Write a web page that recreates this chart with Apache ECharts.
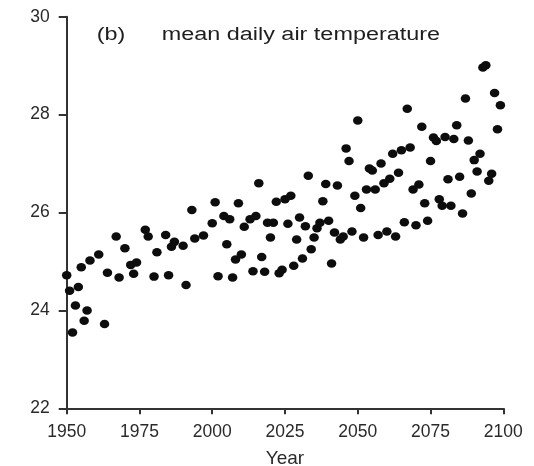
<!DOCTYPE html>
<html>
<head>
<meta charset="utf-8">
<script src="https://cdn.jsdelivr.net/npm/echarts@6/dist/echarts.min.js"></script>
<style>
  html, body { margin: 0; padding: 0; background: #fff; }
  #chart { width: 534px; height: 466px; }
</style>
</head>
<body>
<div id="chart"></div>
<script>
const years = [1950,1951,1952,1953,1954,1955,1956,1957,1958,1961,1963,1964,1967,1968,1970,1972,1973,1974,1977,1978,
  1980,1981,1984,1985,1986,1987,1990,1991,1993,1994,1997,2000,2001,2002,2004,2005,2006,2007,2008,2009,
  2010,2011,2013,2014,2015,2016,2017,2018,2019,2020,2021,2022,2023,2024,2025,2026,2027,2028,2029,2030,
  2031,2032,2033,2034,2035,2036,2037,2038,2039,2040,2041,2042,2043,2044,2045,2046,2047,2048,2049,2050,
  2051,2052,2053,2054,2055,2056,2057,2058,2059,2060,2061,2062,2063,2064,2065,2066,2067,2068,2069,2070,
  2071,2072,2073,2074,2075,2076,2077,2078,2079,2080,2081,2082,2083,2084,2085,2086,2087,2088,2089,2090,
  2091,2092,2093,2094,2095,2096,2097,2098,2099];
const temperature = [24.72,24.40,23.55,24.10,24.48,24.88,23.79,24.00,25.02,25.14,23.72,24.77,25.51,24.67,25.27,24.93,24.75,24.98,25.65,25.51,
  24.69,25.19,25.54,24.72,25.30,25.40,25.32,24.52,26.05,25.47,25.53,25.78,26.21,24.70,25.93,25.35,25.86,24.67,25.04,26.19,
  25.14,25.71,25.86,24.80,25.93,26.60,25.09,24.79,25.79,25.49,25.79,26.22,24.76,24.83,26.27,25.77,26.34,24.91,25.45,25.90,
  25.06,25.72,26.75,25.25,25.49,25.68,25.79,26.23,26.58,25.83,24.96,25.59,26.55,25.45,25.51,27.31,27.05,25.61,26.34,27.88,
  26.09,25.49,26.47,26.90,26.86,26.47,25.54,27.00,26.60,25.61,26.69,27.20,25.51,26.81,27.27,25.80,28.12,27.33,26.47,25.74,
  26.57,27.75,26.19,25.83,27.05,27.53,27.46,26.27,26.14,27.54,26.68,26.14,27.50,27.78,26.73,25.98,28.33,27.47,26.39,27.07,
  26.84,27.20,28.96,29.01,26.65,26.79,28.44,27.70,28.19];
const xTicks = [1950, 1975, 2000, 2025, 2050, 2075, 2100];
const yTicks = [22, 24, 26, 28, 30];
const panelLabel = '(b)';
const titleText = 'mean daily air temperature';
const xName = 'Year';

const points = years.map((y, i) => [y, temperature[i]]);
const FONT = '"Liberation Sans", Arial, sans-serif';
const chart = echarts.init(document.getElementById('chart'), null, { renderer: 'canvas' });
chart.setOption({
  backgroundColor: '#fff',
  animation: false,
  grid: { left: 66.7, right: 30.7, top: 16.7, bottom: 57.7, containLabel: false, outerBoundsMode: 'none' },
  xAxis: {
    type: 'value',
    min: xTicks[0], max: xTicks[xTicks.length - 1], interval: 25,
    name: xName, nameLocation: 'middle', nameGap: 41,
    nameTextStyle: { fontFamily: FONT, fontSize: 19, color: '#2a2a2a' },
    axisLine: { show: true, lineStyle: { color: '#333', width: 2 } },
    axisTick: { show: true, length: 6, lineStyle: { color: '#333', width: 2 } },
    axisLabel: { fontFamily: FONT, fontSize: 17.5, color: '#2a2a2a', margin: 15, formatter: v => String(v) },
    splitLine: { show: false }
  },
  yAxis: {
    type: 'value',
    min: yTicks[0], max: yTicks[yTicks.length - 1], interval: 2,
    axisLine: { show: true, lineStyle: { color: '#333', width: 2 } },
    axisTick: { show: true, length: 8, lineStyle: { color: '#333', width: 2 } },
    axisLabel: { fontFamily: FONT, fontSize: 17.5, color: '#2a2a2a', margin: 17 },
    splitLine: { show: false }
  },
  graphic: [
    { type: 'text', x: 96.7, y: 35, scaleX: 1.3, style: { text: panelLabel, fontFamily: FONT, fontSize: 18, fill: '#1e1e1e', align: 'left', verticalAlign: 'middle' } },
    { type: 'text', x: 161.7, y: 35, scaleX: 1.3, style: { text: titleText, fontFamily: FONT, fontSize: 18, fill: '#1e1e1e', align: 'left', verticalAlign: 'middle' } }
  ],
  series: [{
    type: 'scatter',
    data: points,
    symbol: 'circle',
    symbolSize: [9.5, 8.5],
    itemStyle: { color: '#0d0d0d', opacity: 1 },
    emphasis: { disabled: true }
  }]
});
</script>
</body>
</html>
